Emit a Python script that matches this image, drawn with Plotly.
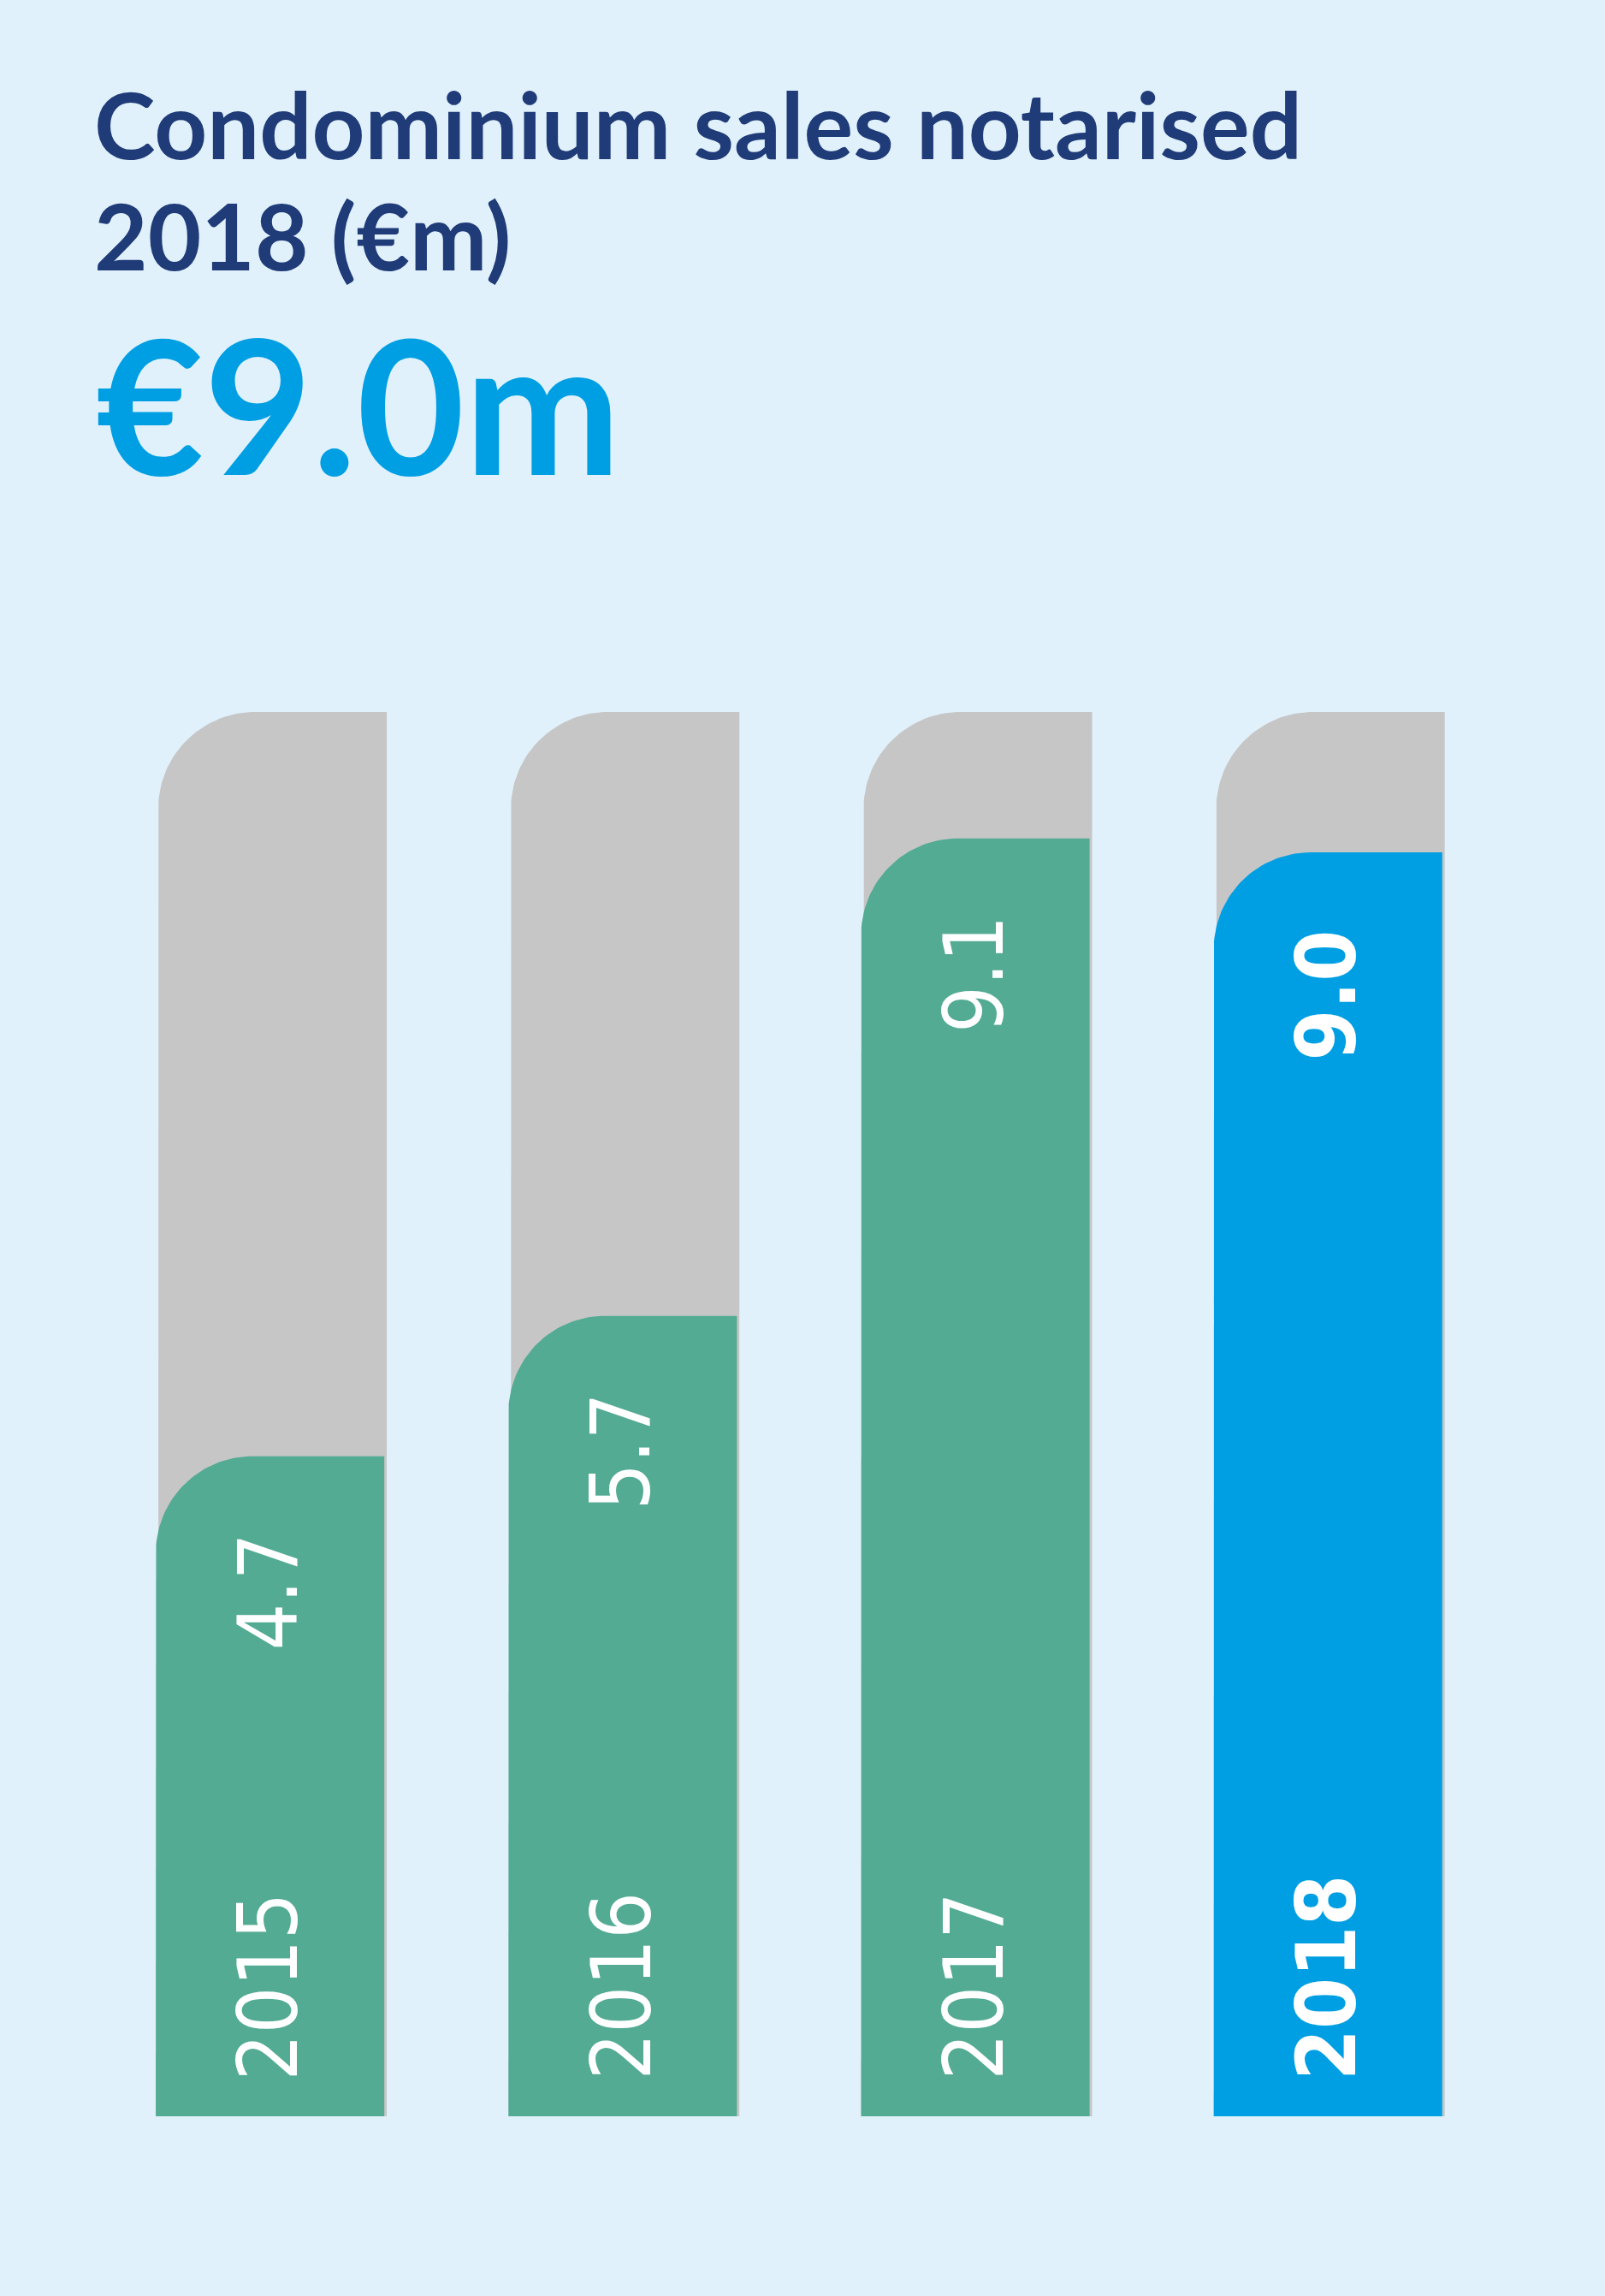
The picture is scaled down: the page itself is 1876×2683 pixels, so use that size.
import numpy as np
import plotly.graph_objects as go

# Datos del grafico
anios = ["2015", "2016", "2017", "2018"]
valores = [4.7, 5.7, 9.1, 9.0]
etiquetas = ["4.7", "5.7", "9.1", "9.0"]
fondo = [10, 10, 10, 10]
colores = ["#53AB93", "#53AB93", "#53AB93", "#009FE3"]

titulo_1 = "Condominium sales notarised"
titulo_2 = "2018 (€m)"
destacado = "€9.0m"

ANCHO_FIG = 1876
ALTO_FIG = 2683
ANCHO_BARRA = 0.648
PX_X = 412.2   # pixeles por unidad en x
PX_Y = 164.1   # pixeles por unidad en y
RADIO = 113    # radio de la esquina redondeada (px)
FUENTE_ETIQ = "DejaVu Sans Condensed"


def contorno_barra(centro, valor, desplazamiento=0.0):
    # barra con solo la esquina superior izquierda redondeada
    rx = RADIO / PX_X
    ry = RADIO / PX_Y
    x0 = centro - ANCHO_BARRA / 2 + desplazamiento
    x1 = centro + ANCHO_BARRA / 2 + desplazamiento
    theta = np.linspace(np.pi, np.pi / 2, 40)
    xs = [x0, x0] + list(x0 + rx + rx * np.cos(theta)) + [x1, x1, x0]
    ys = [0, valor - ry] + list(valor - ry + ry * np.sin(theta)) + [valor, 0, 0]
    return xs, ys


fig = go.Figure()

# Barras grises de fondo
for i, v in enumerate(fondo):
    xs, ys = contorno_barra(i, v)
    fig.add_trace(go.Scatter(x=xs, y=ys, mode="lines", fill="toself",
                             fillcolor="#C6C6C6", line=dict(width=0, color="#C6C6C6"),
                             hoverinfo="skip", showlegend=False))

# Barras de valores
for i, v in enumerate(valores):
    xs, ys = contorno_barra(i, v, desplazamiento=-0.007)
    fig.add_trace(go.Scatter(x=xs, y=ys, mode="lines", fill="toself",
                             fillcolor=colores[i], line=dict(width=0, color=colores[i]),
                             hoverinfo="skip", showlegend=False))

anotaciones = []
for i, anio in enumerate(anios):
    negrita = (i == len(anios) - 1)
    texto = "<b>%s</b>" % anio if negrita else anio
    anotaciones.append(dict(x=i - 0.01, y=0, xref="x", yref="y", text=texto,
                            textangle=-90, showarrow=False, yanchor="bottom",
                            xanchor="center", yshift=40,
                            font=dict(family=FUENTE_ETIQ, size=96, color="white")))
    texto_v = "<b>%s</b>" % etiquetas[i] if negrita else etiquetas[i]
    anotaciones.append(dict(x=i - 0.01, y=valores[i], xref="x", yref="y", text=texto_v,
                            textangle=-90, showarrow=False, yanchor="top",
                            xanchor="center", yshift=-88,
                            font=dict(family=FUENTE_ETIQ, size=96, color="white")))

# Titulos
anotaciones.append(dict(x=108 / ANCHO_FIG, y=1 - 144 / ALTO_FIG, xref="paper", yref="paper",
                        text="<b>%s</b>" % titulo_1, showarrow=False, xanchor="left",
                        yanchor="middle", font=dict(family="Lato", size=108, color="#1F3B78")))
anotaciones.append(dict(x=108 / ANCHO_FIG, y=1 - 274 / ALTO_FIG, xref="paper", yref="paper",
                        text="<b>%s</b>" % titulo_2, showarrow=False, xanchor="left",
                        yanchor="middle", font=dict(family="Lato", size=108, color="#1F3B78")))
anotaciones.append(dict(x=110 / ANCHO_FIG, y=1 - 470 / ALTO_FIG, xref="paper", yref="paper",
                        text="<b>%s</b>" % destacado, showarrow=False, xanchor="left",
                        yanchor="middle", font=dict(family="Lato", size=218, color="#009FE3")))

fig.update_layout(
    width=ANCHO_FIG,
    height=ALTO_FIG,
    margin=dict(l=0, r=0, t=0, b=0),
    paper_bgcolor="#E0F1FB",
    plot_bgcolor="#E0F1FB",
    annotations=anotaciones,
    showlegend=False,
)
fig.update_xaxes(range=[-318.5 / PX_X, (ANCHO_FIG - 318.5) / PX_X], visible=False,
                 fixedrange=True)
fig.update_yaxes(range=[-(ALTO_FIG - 2473) / PX_Y, 10 + 832 / PX_Y], visible=False,
                 fixedrange=True)

# quitar el margen del body para que la figura ocupe toda la ventana
fig.write_html("out.html", config={"displayModeBar": False},
               post_script="document.body.style.margin='0px';")
